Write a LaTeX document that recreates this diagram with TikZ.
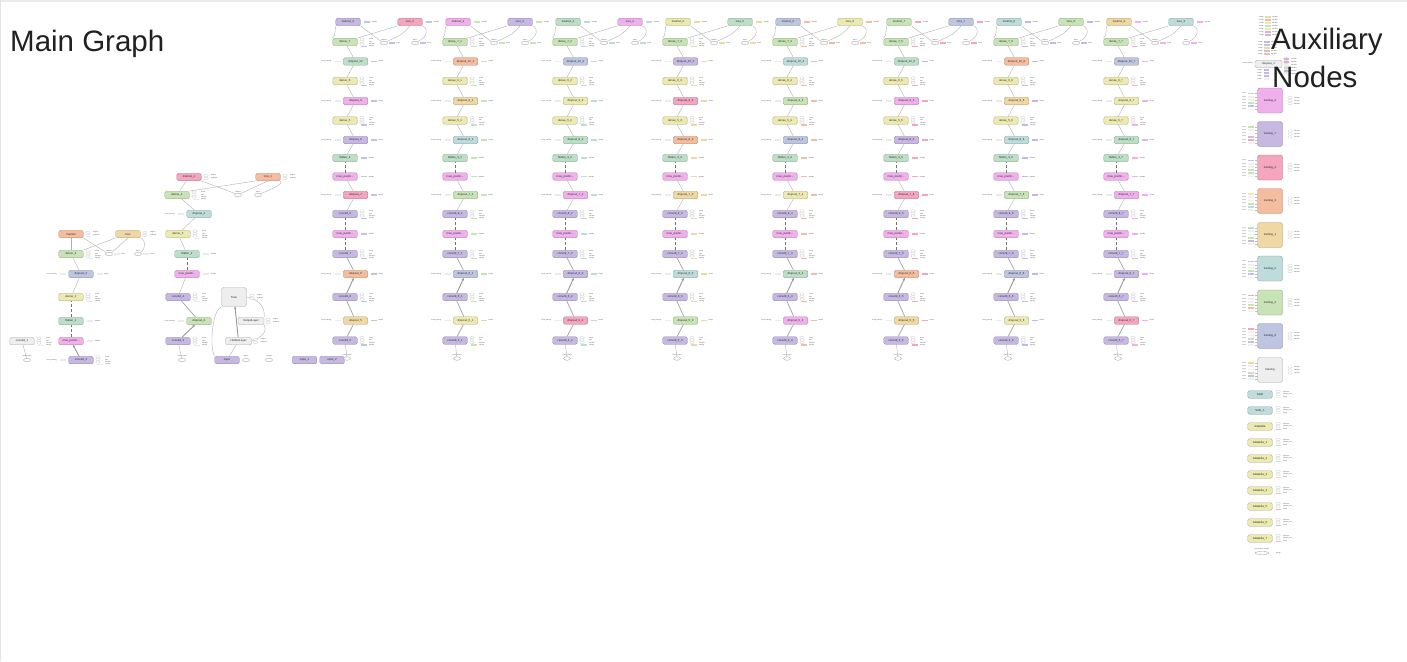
\documentclass[tikz,border=0pt]{standalone}
\usepackage{fontspec}
\setmainfont{Liberation Sans}
\usetikzlibrary{arrows.meta,shapes.geometric}
\definecolor{cLav}{HTML}{C6B8E2}
\definecolor{cMag}{HTML}{EFB0EB}
\definecolor{cPnk}{HTML}{F4A6BF}
\definecolor{cSal}{HTML}{F5BD9F}
\definecolor{cTan}{HTML}{F0D8A5}
\definecolor{cYel}{HTML}{ECEAB0}
\definecolor{cGrn}{HTML}{C8E3B5}
\definecolor{cMnt}{HTML}{BDDFC7}
\definecolor{cTea}{HTML}{BEDCDB}
\definecolor{cBlu}{HTML}{BDC5E0}
\definecolor{cGry}{HTML}{EEEEEE}
\newcommand\nf{\fontsize{2.8}{3}\selectfont}
\newcommand\af{\fontsize{1.5}{1.8}\selectfont}
\tikzset{
 nd/.style={draw=#1!72!black, fill=#1, rounded corners=1.5pt, minimum width=24.5pt, minimum height=7.5pt, inner sep=0pt, line width=0.35pt, font=\nf, text=black!85},
 bigbox/.style={minimum width=25pt, minimum height=25pt, rounded corners=2.5pt},
 el/.style={ellipse, draw=black!40, fill=white, minimum width=7pt, minimum height=3.6pt, inner sep=0pt, line width=0.3pt},
 sel/.style={ellipse, draw=black!25, fill=white, minimum width=4.5pt, minimum height=2.4pt, inner sep=0pt, line width=0.2pt},
 sr/.style={fill=#1, minimum width=6pt, minimum height=1.8pt, inner sep=0pt},
 an/.style={font=\af, text=black!75, inner sep=0pt},
 ed/.style={draw=black!30, line width=0.4pt},
 em/.style={draw=black!38, line width=0.65pt},
 ew/.style={draw=black!40, line width=0.9pt, -{Stealth[length=2.6pt,width=2.6pt]}},
 edd/.style={draw=black!55, line width=0.35pt, densely dashed},
 ttl/.style={font=\fontsize{29.5}{34}\selectfont, text=black!87, inner sep=0pt},
}
% weight annotations (dense / conv)
\newcommand\wann[3]{%
 \foreach \dy in {-3,-0.5,2}{\node[sel] at ({#1+17},{#2+\dy}) {};}
 \node[sr=#3] at ({#1+18.5},{#2+4.5}) {};
 \node[an,anchor=west] at ({#1+24},{#2-3}) {kernel};
 \node[an,anchor=west] at ({#1+24},{#2-0.5}) {bias};
 \node[an,anchor=west] at ({#1+24},{#2+2}) {Variable};
 \node[an,anchor=west] at ({#1+24},{#2+4.5}) {training};
}
% dropout annotations
\newcommand\dann[3]{%
 \node[an,anchor=east] at ({#1-24},#2) {keras\_learning};
 \node[sr=black!8] at ({#1-18},#2) {};
 \node[sr=#3] at ({#1+18.5},#2) {};
 \node[an,anchor=west] at ({#1+23},#2) {Shape};
}
% simple annotations (flatten, pooling, matmul, loss)
\newcommand\sann[3]{%
 \node[sr=#3] at ({#1+19},#2) {};
 \node[an,anchor=west] at ({#1+23.5},#2) {Variable};
}
% two-line annotations
\newcommand\lann[2]{%
 \node[sel] at ({#1+17},{#2-1.5}) {};
 \node[sel] at ({#1+17},{#2+1.5}) {};
 \node[an,anchor=west] at ({#1+22},{#2-1.5}) {weights};
 \node[an,anchor=west] at ({#1+22},{#2+1.5}) {gradients};
}
\newcommand\setcol[9]{\colorlet{kM}{#1}\colorlet{kL}{#2}\colorlet{kA}{#3}\colorlet{kd1}{#4}\colorlet{kd2}{#5}\colorlet{kd3}{#6}\colorlet{kd4}{#7}\colorlet{kd5}{#8}\colorlet{kd6}{#9}}
% one column of the main graph
\newcommand\colm[5]{%
 \node[nd=kM] (c#1m) at ({#2+3},22) {#3};
 \node[nd=kL] (c#1l) at ({#2+65},22) {#4};
 \node[el] (c#1ea) at ({#2+39},43) {};
 \node[el] (c#1eb) at ({#2+70},43) {};
 \node[nd=cGrn] (c#1r1) at (#2,42) {dense\_7#5};
 \node[nd=kd1] (c#1r2) at ({#2+10.5},61.5) {dropout\_10#5};
 \node[nd=cYel] (c#1r3) at (#2,81) {dense\_6#5};
 \node[nd=kd2] (c#1r4) at ({#2+10.5},101) {dropout\_9#5};
 \node[nd=cYel] (c#1r5) at (#2,120.5) {dense\_5#5};
 \node[nd=kd3] (c#1r6) at ({#2+10.5},140) {dropout\_8#5};
 \node[nd=cMnt] (c#1r7) at (#2,158) {flatten\_3#5};
 \node[nd=cMag] (c#1r8) at (#2,176.5) {max\_poolin...};
 \node[nd=kd4] (c#1r9) at ({#2+10.5},195) {dropout\_7#5};
 \node[nd=cLav] (c#1r10) at (#2,214) {conv2d\_8#5};
 \node[nd=cMag] (c#1r11) at (#2,234) {max\_poolin...};
 \node[nd=cLav] (c#1r12) at (#2,254) {conv2d\_7#5};
 \node[nd=kd5] (c#1r13) at ({#2+10.5},274) {dropout\_6#5};
 \node[nd=cLav] (c#1r14) at (#2,297) {conv2d\_6#5};
 \node[nd=kd6] (c#1r15) at ({#2+10.5},320.5) {dropout\_5#5};
 \node[nd=cLav] (c#1r16) at (#2,340.5) {conv2d\_5#5};
 \node[el] (c#1in) at ({#2+2},358.5) {};
 \node[an] at ({#2+2},355) {conv2d\_input};
 % edges
 \draw[ed] (c#1m.south west) .. controls ({#2-10},27) and ({#2-9},36) .. (c#1r1.north west);
 \draw[ed] (c#1m.south east) -- (c#1ea.north west);
 \draw[ed] (c#1r1.north east) -- (c#1l.south west);
 \draw[ed] (c#1l.south) .. controls ({#2+58},34) .. (c#1ea.north east);
 \draw[ed] (c#1l.south east) .. controls ({#2+84},28) and ({#2+82},38) .. (c#1eb.north east);
 \draw[ed] (c#1r2) -- (c#1r1);
 \draw[ed] (c#1r3) -- (c#1r2);
 \draw[ed] (c#1r4) -- (c#1r3);
 \draw[ed] (c#1r5) -- (c#1r4);
 \draw[ed] (c#1r6) -- (c#1r5);
 \draw[ed] (c#1r7) -- (c#1r6);
 \draw[edd] (c#1r8) -- (c#1r7);
 \draw[ed] (c#1r9) -- (c#1r8);
 \draw[ed] (c#1r10) -- (c#1r9);
 \draw[edd] (c#1r11) -- (c#1r10);
 \draw[edd] (c#1r12) -- (c#1r11);
 \draw[em] (c#1r13) -- (c#1r12);
 \draw[ew] (c#1r14) -- (c#1r13);
 \draw[em] (c#1r15) -- (c#1r14);
 \draw[em] (c#1r16) -- (c#1r15);
 \draw[ed] (c#1in) -- (c#1r16);
 % annotations
 \sann{#2+3}{22}{kA}
 \sann{#2+65}{22}{kA}
 \node[an] at ({#2+39},39.5) {Softmax};
 \node[sr=kA] at ({#2+47},43) {};
 \node[an,anchor=west] at ({#2+51},43) {Const};
 \node[an] at ({#2+70},39.5) {Mean};
 \node[sr=kA] at ({#2+78},43) {};
 \node[an,anchor=west] at ({#2+82},43) {Const};
 \wann{#2}{42}{kA}\wann{#2}{81}{kA}\wann{#2}{120.5}{kA}
 \dann{#2+10.5}{61.5}{kA}\dann{#2+10.5}{101}{kA}\dann{#2+10.5}{140}{kA}
 \sann{#2}{158}{kA}\sann{#2}{176.5}{kA}
 \dann{#2+10.5}{195}{kA}
 \wann{#2}{214}{kA}
 \sann{#2}{234}{kA}
 \wann{#2}{254}{kA}
 \dann{#2+10.5}{274}{kA}
 \wann{#2}{297}{kA}
 \dann{#2+10.5}{320.5}{kA}
 \wann{#2}{340.5}{kA}
}
% training box annotations
\newcommand\trann[4]{%
 \foreach \k/\cc in {0/#2,1/black!6,2/black!6,3/#3,4/#4,5/black!6}{
   \node[an,anchor=east] at (1246,{#1-7+3.2*\k}) {input};
   \node[sr=\cc, minimum width=6.5pt] at (1251,{#1-7+3.2*\k}) {};
   \draw[black!25, line width=0.2pt] (1254.5,{#1-7+3.2*\k}) -- (1257.5,{#1-7+3.2*\k});
 }
 \foreach \k in {0,1,2}{
   \node[sel] at (1290,{#1-3+3*\k}) {};
   \node[an,anchor=west] at (1294,{#1-3+3*\k}) {Variable};
 }
}
% optimizer annotations
\newcommand\oann[2]{%
 \foreach \k in {0,1}{\node[sel] at (1278,{#1-3+3*\k}) {};}
 \node[sr=#2, minimum width=5pt] at (1278.5,{#1+3}) {};
 \node[an,anchor=west] at (1283,{#1-3}) {iterations};
 \node[an,anchor=west] at (1283,{#1}) {learning\_rate};
 \node[an,anchor=west] at (1283,{#1+3}) {decay};
}
\begin{document}
\begin{tikzpicture}[x=1pt,y=-1pt]
\useasboundingbox (0,0) rectangle (1407,661);
\fill[white] (0,0) rectangle (1407,661);
\fill[black!8] (0,0) rectangle (1407,2);
\fill[black!10] (0,0) rectangle (1.2,661);

% ---------------- cluster 1 ----------------
\node[nd=cSal] (m0) at (71,234) {matmul};
\node[nd=cTan] (l0) at (128,234) {loss};
\node[el] (m0ea) at (109,254) {};
\node[el] (m0eb) at (138,254) {};
\node[nd=cGrn] (a2) at (71,254) {dense\_2};
\node[nd=cBlu] (a3) at (81,274) {dropout\_2};
\node[nd=cYel] (a4) at (71,297) {dense\_1};
\node[nd=cMnt] (a5) at (71,321) {flatten\_1};
\node[nd=cMag] (a6) at (71,341) {max\_poolin...};
\node[nd=cLav] (a7) at (81,360) {conv2d\_2};
\node[nd=cGry] (a1) at (22,341) {conv2d\_1};
\node[el] (a1in) at (27,360) {};
\draw[ed] (m0) -- (a2);
\draw[ed] (l0.south west) -- (a2.north east);
\draw[ed] (m0.south east) -- (m0ea.north west);
\draw[ed] (l0.south) .. controls (120,245) .. (m0ea.north east);
\draw[ed] (l0.south east) .. controls (147,240) and (145,250) .. (m0eb.north east);
\draw[ed] (a3) -- (a2);
\draw[ed] (a4) -- (a3);
\draw[edd] (a5) -- (a4);
\draw[edd] (a6) -- (a5);
\draw[ew] (a7) -- (a6);
\draw[ed] (a1in) -- (a1);
\lann{71}{234}\lann{128}{234}
\node[an] at (109,250.5) {Softmax};
\node[sr=black!8] at (117,254) {};
\node[an,anchor=west] at (121,254) {Const};
\node[an] at (138,250.5) {Mean};
\node[sr=black!8] at (146,254) {};
\node[an,anchor=west] at (150,254) {Const};
\wann{71}{254}{black!8}
\dann{81}{274}{black!8}
\wann{71}{297}{black!8}
\sann{71}{321}{black!8}
\sann{71}{341}{black!8}
\wann{22}{341}{black!8}
\node[an] at (27,356.5) {conv2d\_input};
\node[an,anchor=east] at (57,360) {keras\_learning};
\node[sr=black!8] at (63,360) {};
\wann{81}{360}{black!8}

% ---------------- cluster 2 ----------------
\node[nd=cPnk] (m1) at (189,177) {matmul\_1};
\node[nd=cSal] (l1) at (268,177) {loss\_1};
\node[el] (b1ea) at (238,195) {};
\node[el] (b1eb) at (258,195) {};
\node[nd=cGrn] (b1) at (177,195) {dense\_4};
\node[nd=cTea] (b2) at (199,214) {dropout\_4};
\node[nd=cYel] (b3) at (178,234) {dense\_3};
\node[nd=cMnt] (b4) at (187,254) {flatten\_2};
\node[nd=cMag] (b5) at (187,274) {max\_poolin...};
\node[nd=cLav] (b6) at (178,297) {conv2d\_4};
\node[nd=cGrn] (b7) at (199,321) {dropout\_3};
\node[nd=cLav] (b8) at (178,341) {conv2d\_3};
\node[el] (b8in) at (182,360) {};
\draw[ed] (m1) -- (b1);
\draw[ed] (l1.south west) -- (b1.north east);
\draw[ed] (m1.south east) -- (b1ea.north west);
\draw[ed] (l1.south) .. controls (255,187) .. (b1ea.north east);
\draw[ed] (l1.south east) .. controls (284,184) and (270,190) .. (b1eb.north east);
\draw[ed] (b2) -- (b1);
\draw[ed] (b3) -- (b2);
\draw[ed] (b4) -- (b3);
\draw[edd] (b5) -- (b4);
\draw[ed] (b6) -- (b5);
\draw[em] (b7) -- (b6);
\draw[ew] (b8) -- (b7);
\draw[ed] (b8in) -- (b8);
\lann{189}{177}\lann{268}{177}
\node[an] at (238,191.5) {Softmax};
\node[an] at (258,191.5) {Mean};
\wann{177}{195}{black!8}
\node[an,anchor=east] at (175,214) {keras\_learning};
\node[sr=black!8] at (181,214) {};
\wann{178}{234}{black!8}
\sann{187}{254}{black!8}
\sann{187}{274}{black!8}
\wann{178}{297}{black!8}
\node[an,anchor=east] at (175,321) {keras\_learning};
\node[sr=black!8] at (181,321) {};
\wann{178}{341}{black!8}
\node[an] at (182,356.5) {conv2d\_input};

% ---------------- Train ----------------
\node[nd=cGry, bigbox, minimum height=19pt] (train) at (234,297) {Train};
\node[nd=cGry, minimum width=26pt] (outl) at (251,321) {OutputLayer};
\node[nd=cGry, minimum width=26pt] (hid) at (238.5,341) {HiddenLayer};
\node[nd=cLav] (inp) at (227,360) {input};
\node[el] (te1) at (246,360) {};
\node[el] (te2) at (269,360) {};
\node[nd=cLav] (inp1) at (304.5,360) {input\_1};
\node[nd=cLav] (inp2) at (332,360) {input\_2};
\draw[ed] (inp.north west) .. controls (210,350) and (211,312) .. (train.south west);
\draw[ew] (hid) -- (train);
\draw[ed] (inp) -- (hid);
\draw[ed] (train.east) .. controls (262,300) and (265,310) .. (outl.north east);
\draw[ed] (outl.south east) .. controls (268,330) and (262,338) .. (hid.east);
\lann{235}{297}
\lann{251}{321}
\lann{238.5}{341}
\node[an] at (246,356.5) {targets};
\node[an] at (269,356.5) {weights};

% ---------------- columns ----------------
\setcol{cLav}{cPnk}{cBlu}{cMnt}{cMag}{cLav}{cPnk}{cSal}{cTan}
\colm{1}{345}{matmul\_2}{loss\_2}{}
\setcol{cMag}{cLav}{cGrn}{cSal}{cTan}{cTea}{cGrn}{cBlu}{cYel}
\colm{2}{455}{matmul\_3}{loss\_3}{\_1}
\setcol{cMnt}{cMag}{cTea}{cBlu}{cYel}{cMnt}{cMag}{cLav}{cPnk}
\colm{3}{565}{matmul\_4}{loss\_4}{\_2}
\setcol{cYel}{cMnt}{cTan}{cLav}{cPnk}{cSal}{cTan}{cTea}{cGrn}
\colm{4}{675}{matmul\_5}{loss\_5}{\_3}
\setcol{cBlu}{cYel}{cSal}{cTea}{cGrn}{cBlu}{cYel}{cMnt}{cMag}
\colm{5}{785}{matmul\_6}{loss\_6}{\_4}
\setcol{cGrn}{cBlu}{cPnk}{cMnt}{cMag}{cLav}{cPnk}{cSal}{cTan}
\colm{6}{896}{matmul\_7}{loss\_7}{\_5}
\setcol{cTea}{cGrn}{cLav}{cSal}{cTan}{cTea}{cGrn}{cBlu}{cYel}
\colm{7}{1006}{matmul\_8}{loss\_8}{\_6}
\setcol{cTan}{cTea}{cMag}{cBlu}{cYel}{cMnt}{cMag}{cLav}{cPnk}
\colm{8}{1116}{matmul\_9}{loss\_9}{\_7}

% ---------------- auxiliary ----------------
\foreach \yy/\cc in {17/cTan,20/cSal,23/cYel,26/cGrn,29/cYel,32/cPnk,35/cLav}{
  \node[an,anchor=east] at (1264,\yy) {Assign};
  \node[sr=\cc] at (1268,\yy) {};
  \node[an,anchor=west] at (1272,\yy) {Variable};
}
\foreach \yy/\cc in {42/cLav,45/cBlu,48/cTan,51/cBlu,54/cSal}{
  \node[an,anchor=east] at (1263,\yy) {Assign};
  \node[sr=\cc] at (1267,\yy) {};
  \node[an,anchor=west] at (1271,\yy) {Variable};
}
\node[nd=cGry, minimum width=27pt] (dp1) at (1268.5,64) {dropout\_1};
\node[an,anchor=east] at (1253,63) {keras\_learning};
\foreach \yy/\cc in {58.5/cLav,61.5/cPnk,64.5/black!6,67.5/cGrn,70.5/cLav,73.5/black!6}{
  \node[sel] at (1286,\yy) {};
  \node[sr=\cc, minimum width=5pt] at (1286,{\yy+0.2}) {};
  \node[an,anchor=west] at (1291,\yy) {Variable};
}
\foreach \yy/\cc in {70/cLav,73/cLav,76/cLav,79/black!6}{
  \node[an,anchor=east] at (1262,\yy) {Assign};
  \node[sr=\cc, minimum width=5pt] at (1266,\yy) {};
}
\foreach \yy/\cc/\nm/\ca/\cb/\cx [count=\i] in {
  100.5/cMag/training\_6/cTea/cGrn/cBlu,
  134/cLav/training\_7/cGrn/cBlu/cPnk,
  167.5/cPnk/training\_4/cBlu/cGrn/cGrn,
  201/cSal/training\_3/cYel/cGrn/cTea,
  235/cTan/training\_1/cMnt/cGrn/cLav,
  268.5/cTea/training\_5/cMag/cGrn/cBlu,
  302.5/cGrn/training\_2/cLav/cGrn/cSal,
  336/cBlu/training\_8/cPnk/cGrn/cBlu,
  370/cGry/training/cTan/cGrn/cBlu}{
  \node[nd=\cc, bigbox] (tr\i) at (1270,\yy) {\nm};
  \trann{\yy}{\ca}{\cb}{\cx}
}
\node[nd=cTea] (sgd) at (1260,394.5) {SGD};
\oann{394.5}{black!6}
\node[nd=cTea] (sgd1) at (1260,410.5) {SGD\_1};
\oann{410.5}{black!6}
\foreach \yy/\nm/\cc [count=\i] in {426.5/Adadelta/cBlu,442.5/Adadelta\_1/cGrn,458.5/Adadelta\_2/cTea,474.5/Adadelta\_3/cTan,490.5/Adadelta\_4/cSal,506.5/Adadelta\_5/cPnk,522.5/Adadelta\_6/cLav,538.5/Adadelta\_7/cMag}{
  \node[nd=cYel] (ad\i) at (1260,\yy) {\nm};
  \oann{\yy}{\cc}
}
\node[an] at (1262,548.7) {Placeholder\_Variable};
\node[el, minimum width=14pt, minimum height=3pt] (ph) at (1262,553) {};
\node[an,anchor=west] at (1276,553) {Assign};

% ---------------- titles ----------------
\node[ttl, anchor=base west] (t1) at (10,52) {Main Graph};
\node[ttl, anchor=base west] (t2) at (1271,50) {Auxiliary};
\node[ttl, anchor=base west] (t3) at (1272,87) {Nodes};
\end{tikzpicture}
\end{document}
